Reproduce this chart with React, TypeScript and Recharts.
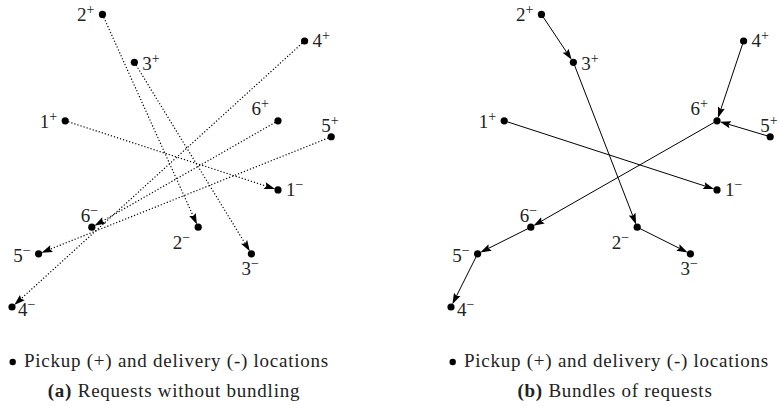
import { ReferenceLine, Scatter, ScatterChart, XAxis, YAxis } from 'recharts';

// locations (pickup +, delivery -) in grid units
const locationNames = ['1+', '2+', '3+', '4+', '5+', '6+', '1-', '2-', '3-', '4-', '5-', '6-'];
const locationX = [2, 3.4, 4.6, 11, 12, 10, 10, 7, 9, 0, 1, 3];
const locationY = [7, 11, 9.2, 10, 6.4, 7, 4.4, 3, 2, 0, 2, 3];

// (a) every request on its own
const directFrom = ['1+', '2+', '3+', '4+', '5+', '6+'];
const directTo = ['1-', '2-', '3-', '4-', '5-', '6-'];

// (b) bundled routes
const bundledFrom = ['2+', '3+', '2-', '1+', '4+', '5+', '6+', '6-', '5-'];
const bundledTo = ['3+', '2-', '3-', '1-', '6+', '6+', '6-', '5-', '4-'];

const legendText = 'Pickup (+) and delivery (-) locations';
const captionA = ['(a)', 'Requests without bundling'];
const captionB = ['(b)', 'Bundles of requests'];

const FONT = 'Liberation Serif';
const UNIT = 26.6;
const ORIGIN_X = 12;
const ORIGIN_Y = 307;
const CHART_W = 345;
const CHART_H = 330;

const xDomain = [-ORIGIN_X / UNIT, (CHART_W - ORIGIN_X) / UNIT];
const yDomain = [-(CHART_H - ORIGIN_Y) / UNIT, ORIGIN_Y / UNIT];

// where each label sits relative to its dot
const labelPlacement: Record<string, { anchor: 'start' | 'end'; dx: number; dy: number }> = {
  '1+': { anchor: 'end', dx: -8, dy: 7 },
  '2+': { anchor: 'end', dx: -8, dy: 7 },
  '3+': { anchor: 'start', dx: 8, dy: 8 },
  '4+': { anchor: 'start', dx: 8, dy: 6 },
  '5+': { anchor: 'start', dx: -10, dy: -5 },
  '6+': { anchor: 'end', dx: -9, dy: -6 },
  '1-': { anchor: 'start', dx: 8, dy: 6 },
  '2-': { anchor: 'end', dx: -8, dy: 22 },
  '3-': { anchor: 'start', dx: -10, dy: 21 },
  '4-': { anchor: 'start', dx: 6, dy: 9 },
  '5-': { anchor: 'end', dx: -8, dy: 8 },
  '6-': { anchor: 'start', dx: -11, dy: -5 },
};

const points = locationNames.map((name, i) => ({ name, x: locationX[i], y: locationY[i] }));
const byName = Object.fromEntries(points.map((p) => [p.name, p]));

const LocationDot = (props: any) => {
  const { cx, cy, payload } = props;
  const place = labelPlacement[payload.name];
  const num = payload.name.slice(0, -1);
  const sign = payload.name.endsWith('+') ? '+' : '\u2212';
  return (
    <g>
      <circle cx={cx} cy={cy} r={3.6} fill="#000" />
      <text
        x={cx + place.dx}
        y={cy + place.dy}
        textAnchor={place.anchor}
        style={{ fontFamily: FONT, fontSize: 19 }}
        fill="#222"
      >
        {num}
        <tspan style={{ fontSize: 14 }} dy={-7}>
          {sign}
        </tspan>
      </text>
    </g>
  );
};

const ArrowLine = (props: any) => {
  const { x1, y1, x2, y2, dotted } = props;
  const len = Math.hypot(x2 - x1, y2 - y1);
  const ux = (x2 - x1) / len;
  const uy = (y2 - y1) / len;
  const px = -uy;
  const py = ux;
  const tipX = x2 - ux * 3;
  const tipY = y2 - uy * 3;
  const headLen = 11;
  const halfW = 3.6;
  const bx = tipX - ux * headLen;
  const by = tipY - uy * headLen;
  const nx = bx + ux * 1.8;
  const ny = by + uy * 1.8;
  return (
    <g>
      <line
        x1={x1}
        y1={y1}
        x2={nx}
        y2={ny}
        stroke="#000"
        strokeWidth={dotted ? 1.2 : 1}
        strokeDasharray={dotted ? '1.2 2' : undefined}
      />
      <polygon
        points={`${tipX},${tipY} ${bx + px * halfW},${by + py * halfW} ${nx},${ny} ${bx - px * halfW},${by - py * halfW}`}
        fill="#000"
      />
    </g>
  );
};

const Panel = ({ from, to, dotted }: { from: string[]; to: string[]; dotted: boolean }) => (
  <ScatterChart width={CHART_W} height={CHART_H} margin={{ top: 0, right: 0, bottom: 0, left: 0 }}>
    <XAxis type="number" dataKey="x" domain={xDomain} hide allowDataOverflow />
    <YAxis type="number" dataKey="y" domain={yDomain} hide allowDataOverflow />
    {from.map((f, i) => (
      <ReferenceLine
        key={f + to[i]}
        ifOverflow="visible"
        segment={[
          { x: byName[f].x, y: byName[f].y },
          { x: byName[to[i]].x, y: byName[to[i]].y },
        ]}
        shape={(p: any) => <ArrowLine {...p} dotted={dotted} />}
      />
    ))}
    <Scatter data={points} shape={LocationDot} isAnimationActive={false} />
  </ScatterChart>
);

const Caption = ({ cx, legendX, parts }: { cx: number; legendX: number; parts: string[] }) => (
  <g fill="#222" style={{ fontFamily: FONT, fontSize: 19, letterSpacing: 0.75 }}>
    <circle cx={legendX + 2.7} cy={362} r={3.2} fill="#000" />
    <text x={legendX + 14} y={366.5}>
      {legendText}
    </text>
    <text x={cx} y={396.5} textAnchor="middle">
      <tspan style={{ fontWeight: 'bold' }}>{parts[0]}</tspan> {parts[1]}
    </text>
  </g>
);

export default function App() {
  return (
    <div style={{ position: 'absolute', left: 0, top: 0, width: 779, height: 406, background: '#fff', overflow: 'hidden', fontFamily: FONT }}>
      <div style={{ position: 'absolute', left: 0, top: 0 }}>
        <Panel from={directFrom} to={directTo} dotted />
      </div>
      <div style={{ position: 'absolute', left: 439, top: 0 }}>
        <Panel from={bundledFrom} to={bundledTo} dotted={false} />
      </div>
      <svg width={779} height={406} style={{ position: 'absolute', left: 0, top: 0, pointerEvents: 'none' }}>
        <Caption cx={174} legendX={10} parts={captionA} />
        <Caption cx={615} legendX={450} parts={captionB} />
      </svg>
    </div>
  );
}
